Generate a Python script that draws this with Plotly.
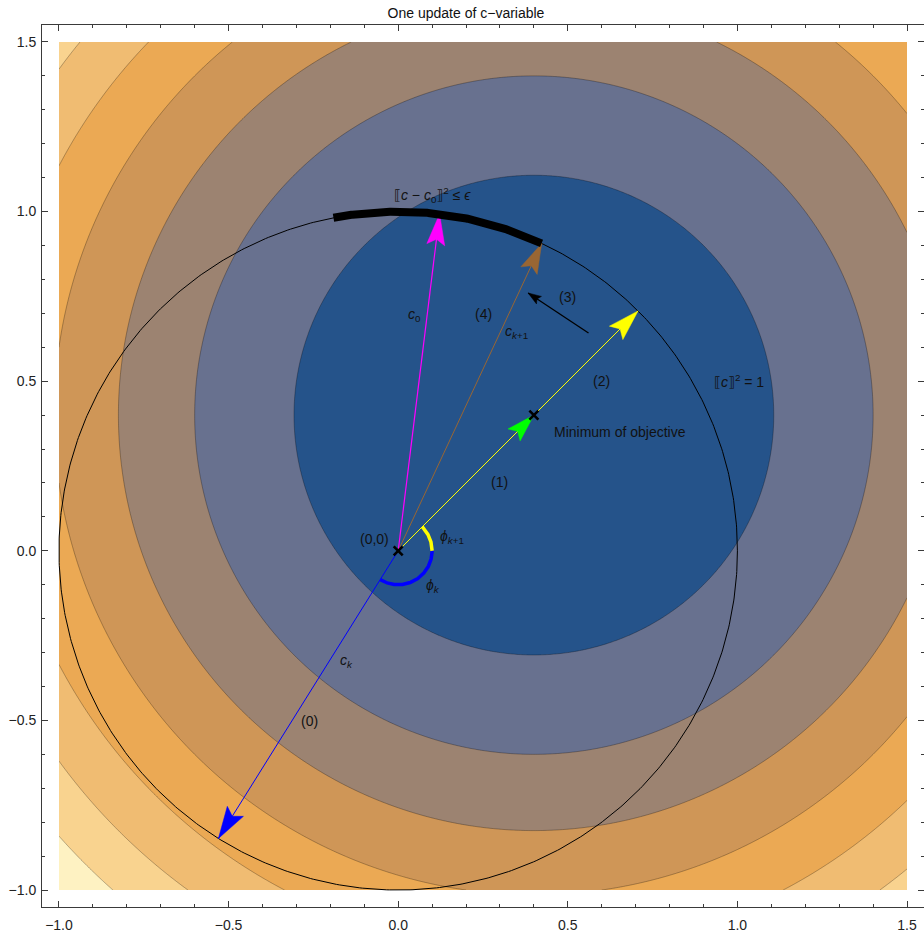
import numpy as np
import plotly.graph_objects as go

# ---- objective: squared distance to its minimum, shown as filled contours ----
X_DOMAIN = [-1.0, 1.5]
Y_DOMAIN = [-1.0, 1.5]
MINIMUM = [0.4, 0.4]
LEVEL_START, LEVEL_END, LEVEL_STEP = 0.5, 3.5, 0.5
BAND_COLORS = ["#25538A", "#68718F", "#9C8371", "#CF9657",
               "#EBA954", "#F0BC72", "#F9D38F", "#FEF2C2"]

# ---- vectors drawn from the origin ----
ORIGIN = [0.0, 0.0]
C_K = [-0.530, -0.848]      # current iterate c_k
C_0 = [0.122, 0.993]        # reference point c_0
C_K1 = [0.423, 0.906]       # next iterate c_{k+1}
PROJ = [0.7071, 0.7071]     # minimum projected on the unit circle
STEP3 = [[0.561, 0.642], [0.383, 0.760]]   # rotation towards the constraint arc

# ---- arcs (degrees) ----
EPS_ARC = [65, 101]         # feasible part of the unit circle near c_0
PHI_K_ARC = [-122, 0]
PHI_K1_ARC = [0, 45]
ANGLE_RADIUS = 0.1
UNIT_RADIUS = 1.0

# ---- labels: (text, x, y, anchor) ----
LABELS = [
    ("(0,0)", -0.069, 0.035, "center"),
    ("<i>ϕ</i><sub><i>k</i>+1</sub>", 0.160, 0.040, "center"),
    ("<i>ϕ</i><sub><i>k</i></sub>", 0.102, -0.104, "center"),
    ("<i>c</i><sub><i>k</i></sub>", -0.151, -0.326, "center"),
    ("(0)", -0.260, -0.503, "center"),
    ("<i>c</i><sub>0</sub>", 0.049, 0.696, "center"),
    ("(4)", 0.252, 0.698, "center"),
    ("<i>c</i><sub><i>k</i>+1</sub>", 0.349, 0.646, "center"),
    ("(3)", 0.499, 0.748, "center"),
    ("(2)", 0.598, 0.501, "center"),
    ("(1)", 0.300, 0.203, "center"),
    ("Minimum of objective", 0.452, 0.351, "left"),
    ("⟦<i>c</i>⟧<sup>2</sup> = 1", 1.005, 0.500, "center"),
    ("⟦<i>c</i> − <i>c</i><sub>0</sub>⟧<sup>2</sup> ≤ <i>ϵ</i>", 0.101, 1.048, "center"),
]

FONT = "Liberation Sans, Arial, DejaVu Sans, sans-serif"
AXIS_RANGE = [-1.05, 1.55]
PLOT_PX = 882
PX_PER_UNIT = PLOT_PX / (AXIS_RANGE[1] - AXIS_RANGE[0])

fig = go.Figure()

# filled contour background
gx = np.linspace(X_DOMAIN[0], X_DOMAIN[1], 501)
gy = np.linspace(Y_DOMAIN[0], Y_DOMAIN[1], 501)
GX, GY = np.meshgrid(gx, gy)
Z = (GX - MINIMUM[0]) ** 2 + (GY - MINIMUM[1]) ** 2
nb = len(BAND_COLORS) - 1
fig.add_trace(go.Contour(
    x=gx, y=gy, z=Z,
    autocontour=False,
    contours=dict(start=LEVEL_START, end=LEVEL_END, size=LEVEL_STEP,
                  coloring="fill", showlines=True),
    colorscale=[[i / nb, c] for i, c in enumerate(BAND_COLORS)],
    line=dict(color="rgba(0,0,0,0.35)", width=0.8),
    showscale=False, hoverinfo="skip",
))


def arc(radius, a0, a1, n=200):
    t = np.radians(np.linspace(a0, a1, n))
    return radius * np.cos(t), radius * np.sin(t)


def add_line(xs, ys, color, width):
    fig.add_trace(go.Scatter(x=xs, y=ys, mode="lines",
                             line=dict(color=color, width=width),
                             hoverinfo="skip"))


def add_head(tail, tip, color, length=30, width=19, notch=0.18):
    tail = np.asarray(tail, float)
    tip = np.asarray(tip, float)
    d = tip - tail
    d /= np.hypot(d[0], d[1])
    nrm = np.array([-d[1], d[0]])
    L = length / PX_PER_UNIT
    W = width / PX_PER_UNIT
    pts = [tip, tip - L * d + 0.5 * W * nrm, tip - L * (1 - notch) * d,
           tip - L * d - 0.5 * W * nrm, tip]
    fig.add_trace(go.Scatter(x=[p[0] for p in pts], y=[p[1] for p in pts],
                             mode="lines", fill="toself", fillcolor=color,
                             line=dict(color=color, width=0.5),
                             hoverinfo="skip"))


# unit circle
ux, uy = arc(UNIT_RADIUS, 0, 360, 721)
add_line(ux, uy, "#000000", 1.0)

# angle markers at the origin
bx, by = arc(ANGLE_RADIUS, *PHI_K_ARC)
add_line(bx, by, "#0000FF", 3.5)
yx, yy = arc(ANGLE_RADIUS, *PHI_K1_ARC)
add_line(yx, yy, "#FFFF00", 3.5)

# arrows
arrows = [
    (ORIGIN, C_K, "#0000FF", 1.0, 32, 19),
    (ORIGIN, C_0, "#FF00FF", 1.2, 31, 18),
    (ORIGIN, C_K1, "#996633", 1.0, 30, 18),
    (ORIGIN, MINIMUM, "#00FF00", 1.0, 28, 17),
    (ORIGIN, PROJ, "#FFFF00", 1.0, 31, 19),
    (STEP3[0], STEP3[1], "#000000", 1.3, 13, 9),
]
for tail, tip, col, w, hl, hw in arrows:
    add_line([tail[0], tip[0]], [tail[1], tip[1]], col, w)
for tail, tip, col, w, hl, hw in arrows:
    add_head(tail, tip, col, hl, hw)

# constraint arc
ex, ey = arc(UNIT_RADIUS, *EPS_ARC)
add_line(ex, ey, "#000000", 8)

# origin and minimum markers
fig.add_trace(go.Scatter(
    x=[ORIGIN[0], MINIMUM[0]], y=[ORIGIN[1], MINIMUM[1]], mode="markers",
    marker=dict(symbol="x-thin", size=9, line=dict(color="#000000", width=2.6)),
    hoverinfo="skip"))

for text, lx, ly, anchor in LABELS:
    fig.add_annotation(x=lx, y=ly, text=text, showarrow=False,
                       xanchor=anchor, yanchor="middle",
                       font=dict(family=FONT, size=14, color="#111111"))

axis = dict(
    range=AXIS_RANGE, showgrid=False, zeroline=False,
    showline=True, linecolor="#3a3a3a", linewidth=1, mirror="allticks",
    ticks="inside", ticklen=6, tickwidth=1, tickcolor="#3a3a3a",
    tick0=0, dtick=0.5, tickformat=".1f",
    minor=dict(dtick=0.1, ticks="inside", ticklen=3, tickwidth=1,
               tickcolor="#3a3a3a", showgrid=False),
    tickfont=dict(family=FONT, size=14, color="#222222"),
    automargin=False, fixedrange=True,
)

fig.update_layout(
    width=924, height=935,
    margin=dict(l=42, r=0, t=25, b=28, pad=0),
    paper_bgcolor="white", plot_bgcolor="white",
    showlegend=False,
    title=dict(text="One update of c−variable", x=466 / 924, xref="container",
               xanchor="center", y=1 - 13 / 935, yref="container",
               yanchor="middle", font=dict(family=FONT, size=14, color="#111111")),
    xaxis=dict(axis, ticklabelstandoff=5), yaxis=dict(axis, ticklabelstandoff=2),
)

fig.write_html("out.html")
